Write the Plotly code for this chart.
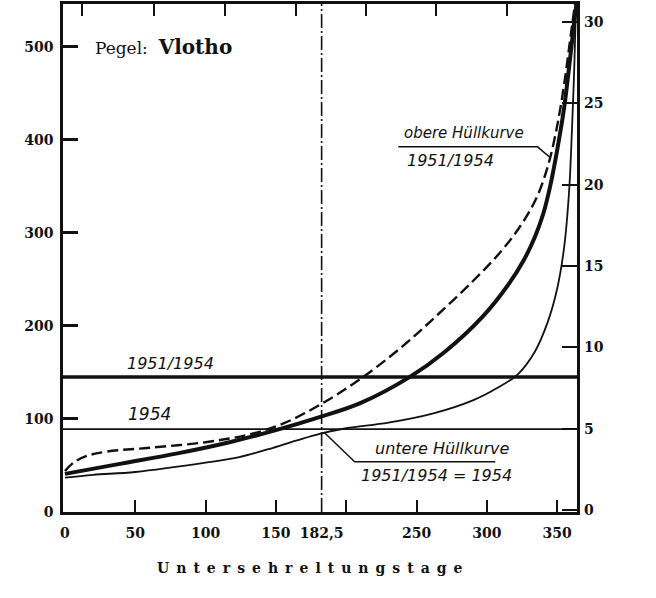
import plotly.graph_objects as go

# Dauerlinien Pegel Vlotho, Abfluss [m3/s] ueber Unterschreitungstage
days_mean = [0, 40, 80, 117, 150, 181, 210, 245, 270, 297, 316, 326, 334, 340, 345, 350, 355, 359, 362, 364]
q_mean = [41, 52, 63, 75, 88, 102, 117, 145, 172, 210, 246, 270, 295, 320, 350, 389, 435, 485, 525, 550]

days_upper = [0, 6, 15, 30, 60, 100, 130, 155, 181, 210, 240, 265, 290, 310, 325, 336, 344, 350, 355, 359, 363]
q_upper = [44, 53, 60, 65, 69, 75, 83, 95, 115, 143, 178, 212, 248, 280, 310, 340, 375, 415, 460, 505, 550]

days_lower = [0, 20, 50, 100, 124, 148, 165, 181, 200, 230, 262, 290, 307, 322, 334, 343, 350, 355, 358.5, 360.5, 362.2, 363.5]
q_lower = [37, 40, 43, 53, 59, 69, 77, 84, 90, 96, 106, 120, 133, 148, 172, 203, 240, 285, 345, 410, 480, 550]

mq_1951_1954 = 145
mq_1954 = 89
median_day = 182.5

x_ticks = [0, 50, 100, 150, 182.5, 250, 300, 350]
x_ticktext = ["0", "50", "100", "150", "182,5", "250", "300", "350"]
x_marks = [50, 100, 150, 200, 250, 300, 350]
top_marks = [12, 63, 114, 164, 214, 264, 314]
q_ticks = [0, 100, 200, 300, 400, 500]
w_ticks = [0, 5, 10, 15, 20, 25, 30]

ink = "#111111"
x_range = [-1.4, 364.1]
serif = dict(family="DejaVu Serif", size=14, color=ink, weight="bold")
hand = "DejaVu Sans"

fig = go.Figure()

fig.add_trace(go.Scatter(x=days_upper, y=q_upper, mode="lines",
                         line=dict(color=ink, width=2.4, dash="11px,5px", shape="spline", smoothing=1),
                         name="obere Hüllkurve"))
fig.add_trace(go.Scatter(x=days_mean, y=q_mean, mode="lines",
                         line=dict(color=ink, width=4, shape="spline", smoothing=1),
                         name="1951/1954"))
fig.add_trace(go.Scatter(x=days_lower, y=q_lower, mode="lines",
                         line=dict(color=ink, width=1.8, shape="spline", smoothing=1),
                         name="untere Hüllkurve"))
# leere Spuren fuer Zusatzachsen
fig.add_trace(go.Scatter(x=[None], y=[None], yaxis="y2", showlegend=False))
fig.add_trace(go.Scatter(x=[None], y=[None], xaxis="x2", showlegend=False))
fig.add_trace(go.Scatter(x=[None], y=[None], xaxis="x3", showlegend=False))

fig.add_hline(y=mq_1951_1954, line=dict(color=ink, width=3.5))
fig.add_hline(y=mq_1954, line=dict(color=ink, width=1.8))
fig.add_vline(x=median_day, line=dict(color=ink, width=1.6, dash="14px,3px,2px,3px"))

# Beschriftungen mit Hinweislinien
fig.add_shape(type="path", path="M 237,392.5 L 336,392.5 L 345,381", line=dict(color=ink, width=1.5))
fig.add_shape(type="path", path="M 184,86 L 206,54 L 306,54", line=dict(color=ink, width=1.5))

notes = [
    (284, 395, "<i>obere Hüllkurve</i>", 15, "bottom"),
    (274, 390, "<i>1951/1954</i>", 16, "top"),
    (75, 147, "<i>1951/1954</i>", 16, "bottom"),
    (60, 92, "<i>1954</i>", 17, "bottom"),
    (268, 56, "<i>untere Hüllkurve</i>", 16, "bottom"),
    (264, 52, "<i>1951/1954 = 1954</i>", 16, "top"),
]
for x, y, t, s, ya in notes:
    fig.add_annotation(x=x, y=y, text=t, showarrow=False, yanchor=ya,
                       font=dict(family=hand, size=s, color=ink))

fig.add_annotation(x=20, y=500, text="Pegel:  <b><span style='font-size:20px'>Vlotho</span></b>",
                   showarrow=False, xanchor="left",
                   font=dict(family="DejaVu Serif", size=17, color=ink))
fig.add_annotation(x=0.4815, y=-0.13, xref="paper", yref="paper", showarrow=False,
                   text="\u2002".join("Untersehreltungstage"), font=serif)

fig.update_layout(
    width=656, height=598,
    margin=dict(l=63, r=79, t=4, b=86),
    paper_bgcolor="white", plot_bgcolor="white",
    showlegend=False,
    xaxis=dict(range=x_range, tickvals=x_ticks, ticktext=x_ticktext, ticks="", tickfont=serif,
               showgrid=False, zeroline=False, showline=True, mirror=True, linecolor=ink, linewidth=2.5,
               ticklabelstandoff=6, automargin=False),
    xaxis2=dict(range=x_range, overlaying="x", side="bottom", tickvals=x_marks, showticklabels=False,
                ticks="inside", ticklen=12, tickwidth=2, tickcolor=ink, showgrid=False, zeroline=False,
                automargin=False),
    xaxis3=dict(range=x_range, overlaying="x", side="top", tickvals=top_marks, showticklabels=False,
                ticks="inside", ticklen=12, tickwidth=2, tickcolor=ink, showgrid=False, zeroline=False,
                automargin=False),
    yaxis=dict(range=[0, 546], tickvals=q_ticks, ticks="inside", ticklen=15, tickwidth=2.5, tickcolor=ink,
               tickfont=serif, showgrid=False, zeroline=False, showline=True, mirror=True,
               linecolor=ink, linewidth=2.5, ticklabelstandoff=4, automargin=False),
    yaxis2=dict(range=[-0.12, 31.1], overlaying="y", side="right", tickvals=w_ticks, ticks="inside",
                ticklen=15, tickwidth=2, tickcolor=ink, tickfont=serif, showgrid=False, zeroline=False,
                ticklabelstandoff=6, automargin=False),
)

fig.write_html("out.html", config={"displayModeBar": False},
               post_script="document.body.style.margin='0';")
